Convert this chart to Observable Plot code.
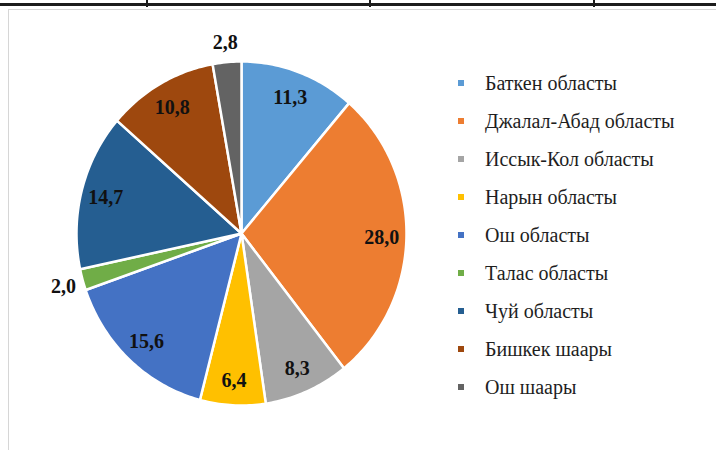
<!DOCTYPE html>
<html><head><meta charset="utf-8">
<script src="https://cdn.jsdelivr.net/npm/d3@7"></script>
<script src="https://cdn.jsdelivr.net/npm/@observablehq/plot@0.6"></script>
<style>
body{margin:0;background:#fff;}
#wrap{position:relative;width:716px;height:450px;overflow:hidden;background:#fff;}
.topbar{position:absolute;left:0;top:3px;width:716px;height:3px;background:#1c1c1c;}
.tick{position:absolute;top:0;width:2px;height:7px;background:#1c1c1c;}
.frame{position:absolute;left:8px;top:9px;width:720px;height:460px;border:1.5px solid #d6d6d6;box-sizing:border-box;}
#chart{position:absolute;left:0;top:0;}
.leg{position:absolute;left:458px;height:20px;font-family:"Liberation Serif","DejaVu Serif",serif;font-size:20px;line-height:20px;color:#1e1e1e;white-space:nowrap;}
.leg .sw{position:absolute;left:0;top:7px;width:6px;height:6px;}
.leg .tx{position:absolute;left:27px;top:0;}
</style></head>
<body><div id="wrap">
<div class="frame"></div>
<div class="topbar"></div>
<div class="tick" style="left:146px"></div>
<div class="tick" style="left:369px"></div>
<div class="tick" style="left:593px"></div>
<div id="chart"></div>
</div>
<script>
const regions = ["Баткен областы","Джалал-Абад областы","Иссык-Кол областы","Нарын областы","Ош областы","Талас областы","Чуй областы","Бишкек шаары","Ош шаары"];
const values = [11.3, 28.0, 8.3, 6.4, 15.6, 2.0, 14.7, 10.8, 2.8];
const valueLabels = ["11,3","28,0","8,3","6,4","15,6","2,0","14,7","10,8","2,8"];
const colors = ["#5B9BD5","#ED7D31","#A5A5A5","#FFC000","#4472C4","#70AD47","#255E91","#9E480E","#636363"];

const total = d3.sum(values);
let acc = 0;
const slices = values.map((v, i) => {
  const a0 = acc / total * 2 * Math.PI; acc += v;
  const a1 = acc / total * 2 * Math.PI;
  return {name: regions[i], value: v, label: valueLabels[i], a0, a1};
});
const pts = [];
for (const s of slices) {
  pts.push({name: s.name, u: 0, v: 0});
  const n = Math.max(2, Math.ceil((s.a1 - s.a0) / (Math.PI / 180)));
  for (let k = 0; k <= n; k++) {
    const a = s.a0 + (s.a1 - s.a0) * k / n;
    pts.push({name: s.name, u: Math.sin(a), v: -Math.cos(a)});
  }
  pts.push({name: s.name, u: 0, v: 0});
}
const labs = slices.map(s => {
  const m = (s.a0 + s.a1) / 2;
  const r = s.value < 3 ? 1.12 : 0.85;
  return {label: s.label, u: r * Math.sin(m), v: -r * Math.cos(m)};
});

const cx = 241, cy = 233, rx = 165, ry = 172;
const plot = Plot.plot({
  width: 716, height: 450, margin: 0,
  style: {background: "transparent", overflow: "visible"},
  x: {domain: [-cx / rx, (716 - cx) / rx], range: [0, 716], axis: null},
  y: {domain: [-cy / ry, (450 - cy) / ry], range: [0, 450], axis: null},
  color: {domain: regions, range: colors},
  marks: [
    Plot.line(pts, {x: "u", y: "v", z: "name", fill: "name", stroke: "white", strokeWidth: 2.5, strokeLinejoin: "round"}),
    Plot.text(labs, {x: "u", y: "v", text: "label", dy: 1, fontWeight: "bold", fontSize: 20, fontFamily: "'Liberation Serif','DejaVu Serif',serif", fill: "#111"})
  ]
});
document.getElementById("chart").appendChild(plot);

const wrap = document.getElementById("wrap");
regions.forEach((r, i) => {
  const d = document.createElement("div");
  d.className = "leg";
  d.style.top = (82.7 + i * 38 - 10) + "px";
  d.innerHTML = `<span class="sw" style="background:${colors[i]}"></span><span class="tx"></span>`;
  d.querySelector(".tx").textContent = r;
  wrap.appendChild(d);
});
</script>
</body></html>
